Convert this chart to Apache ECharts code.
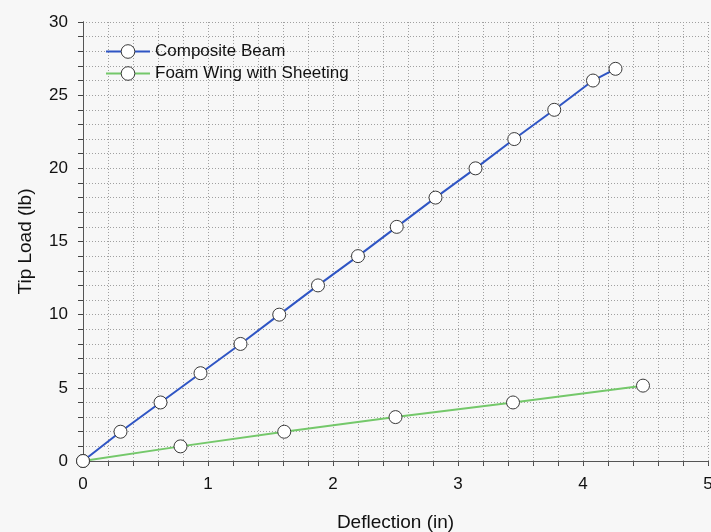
<!DOCTYPE html>
<html>
<head>
<meta charset="utf-8">
<script src="https://cdn.jsdelivr.net/npm/echarts@6/dist/echarts.min.js"></script>
<style>
  html, body { margin: 0; padding: 0; background: #f7f7f7; }
  #chart { width: 711px; height: 532px; }
</style>
</head>
<body>
<div id="chart"></div>
<script>
// Tip load vs. deflection test data
const compositeDeflection = [0, 0.30, 0.62, 0.94, 1.26, 1.57, 1.88, 2.20, 2.51, 2.82, 3.14, 3.45, 3.77, 4.08, 4.26];
const compositeLoad       = [0, 2, 4, 6, 8, 10, 12, 14, 16, 18, 20, 22, 24, 26, 26.8];
const foamDeflection = [0, 0.78, 1.61, 2.50, 3.44, 4.48];
const foamLoad       = [0, 1, 2, 3, 4, 5.15];
const seriesNames = ['Composite Beam', 'Foam Wing with Sheeting'];

const toPairs = (xs, ys) => xs.map((x, i) => [x, ys[i]]);

const font = 'Liberation Sans, Arial, sans-serif';
const gridDot = { show: true, lineStyle: { color: '#a0a0a0', type: [1, 2], width: 1 } };
const markerStyle = { color: '#ffffff', borderColor: '#3a3a3a', borderWidth: 1 };

const chart = echarts.init(document.getElementById('chart'), null, { renderer: 'canvas' });
chart.setOption({
  backgroundColor: '#f7f7f7',
  animation: false,
  grid: { left: 83, right: 3, top: 22, bottom: 71, containLabel: false, outerBoundsMode: 'none' },
  legend: {
    orient: 'vertical',
    left: 100,
    top: 38,
    itemWidth: 44,
    itemHeight: 17,
    itemGap: 5,
    textStyle: { fontFamily: font, fontSize: 17, color: '#111' },
    itemStyle: markerStyle,
    data: seriesNames
  },
  xAxis: [{
    type: 'value', min: 0, max: 5, interval: 1,
    name: 'Deflection (in)', nameLocation: 'middle', nameGap: 52,
    nameTextStyle: { fontFamily: font, fontSize: 19, color: '#111' },
    axisLine: { show: true, onZero: false, lineStyle: { color: '#444', width: 1 } },
    axisTick: { show: true, length: 5, lineStyle: { color: '#444' } },
    minorTick: { show: true, splitNumber: 5, length: 5, lineStyle: { color: '#444' } },
    axisLabel: { fontFamily: font, fontSize: 17, color: '#111', margin: 15 },
    splitLine: gridDot,
    minorSplitLine: gridDot
  }, {
    type: 'value', position: 'top', min: 0, max: 5, interval: 1,
    axisLine: { show: true, lineStyle: { color: '#555', width: 1 } },
    axisTick: { show: true, inside: true, length: 4, lineStyle: { color: '#555' } },
    minorTick: { show: true, splitNumber: 5, length: 4, lineStyle: { color: '#555' } },
    axisLabel: { show: false },
    splitLine: { show: false }
  }],
  yAxis: [{
    type: 'value', min: 0, max: 30, interval: 5,
    name: 'Tip Load (lb)', nameLocation: 'middle', nameGap: 48, nameRotate: 90,
    nameTextStyle: { fontFamily: font, fontSize: 19, color: '#111' },
    axisLine: { show: true, lineStyle: { color: '#444', width: 1 } },
    axisTick: { show: true, length: 5, lineStyle: { color: '#444' } },
    minorTick: { show: true, splitNumber: 5, length: 5, lineStyle: { color: '#444' } },
    axisLabel: { fontFamily: font, fontSize: 17, color: '#111', margin: 15 },
    splitLine: gridDot,
    minorSplitLine: gridDot
  }, {
    type: 'value', position: 'right', min: 0, max: 30, interval: 5,
    axisLine: { show: true, lineStyle: { color: '#555', width: 1 } },
    axisTick: { show: false },
    axisLabel: { show: false },
    splitLine: { show: false }
  }],
  series: [{
    name: seriesNames[0],
    type: 'line',
    data: toPairs(compositeDeflection, compositeLoad),
    symbol: 'circle', symbolSize: 13,
    lineStyle: { color: '#2f55c4', width: 2 },
    itemStyle: markerStyle,
    z: 3
  }, {
    name: seriesNames[1],
    type: 'line',
    data: toPairs(foamDeflection, foamLoad),
    symbol: 'circle', symbolSize: 13,
    lineStyle: { color: '#74c86a', width: 2 },
    itemStyle: markerStyle,
    z: 2
  }]
});
</script>
</body>
</html>
